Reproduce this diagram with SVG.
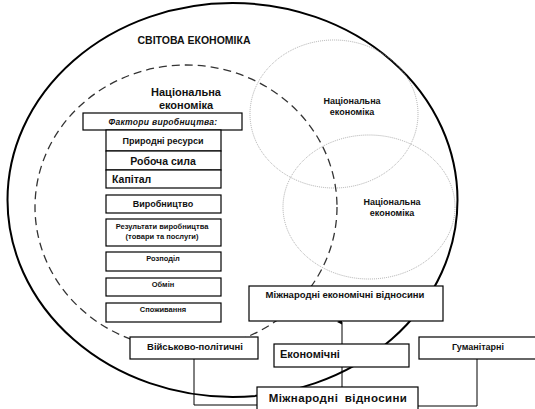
<svg xmlns="http://www.w3.org/2000/svg" width="535" height="409" viewBox="0 0 535 409">
<defs>
<style>
.box{fill:#fff;stroke:#000;stroke-width:1.2}
.t{font-family:"Liberation Sans",Arial,sans-serif;font-weight:bold;fill:#111}
.c{text-anchor:middle}
.ln{stroke:#000;stroke-width:1;fill:none}
</style>
<marker id="ah" markerWidth="6" markerHeight="6" refX="3" refY="5" orient="auto-start-reverse" markerUnits="userSpaceOnUse">
<path d="M0.5,5 L3,0 L5.5,5 Z" fill="#000"/>
</marker>
</defs>
<rect width="535" height="409" fill="#fff"/>
<g id="world">
<ellipse cx="232.5" cy="200" rx="225" ry="197" fill="none" stroke="#000" stroke-width="2"/>
<text class="t c" x="194" y="44" font-size="10.5">СВІТОВА ЕКОНОМІКА</text>
</g>
<g id="national3">
<ellipse cx="369" cy="207" rx="86" ry="72" fill="none" stroke="#999" stroke-width="0.8" stroke-dasharray="1,1"/>
<text class="t c" x="392" y="205" font-size="9">Національна</text>
<text class="t c" x="392" y="216" font-size="9">економіка</text>
</g>
<g id="national2">
<ellipse cx="334" cy="114" rx="84" ry="74" fill="none" stroke="#999" stroke-width="0.8" stroke-dasharray="1,1"/>
<text class="t c" x="352" y="104" font-size="9">Національна</text>
<text class="t c" x="352" y="115" font-size="9">економіка</text>
</g>
<g id="national1">
<ellipse cx="186" cy="207" rx="151" ry="142" fill="none" stroke="#333" stroke-width="1.3" stroke-dasharray="8,5"/>
<text class="t c" x="186" y="96" font-size="11">Національна</text>
<text class="t c" x="186" y="109" font-size="11">економіка</text>
</g>
<g id="factors">
<rect class="box" x="83" y="113" width="159" height="17"/>
<text class="t c" x="163" y="124.5" font-size="8.5" font-style="italic" letter-spacing="0.3">Фактори виробництва:</text>
</g>
<g id="resources">
<rect class="box" x="106" y="130" width="115" height="21"/>
<text class="t c" x="163" y="144" font-size="9">Природні ресурси</text>
</g>
<g id="labour">
<rect class="box" x="106" y="151" width="115" height="19"/>
<text class="t c" x="163" y="164.5" font-size="10.5">Робоча сила</text>
</g>
<g id="capital">
<rect class="box" x="106" y="170" width="115" height="18"/>
<text class="t" x="112" y="183" font-size="10.5">Капітал</text>
</g>
<g id="production">
<rect class="box" x="106" y="195" width="115" height="18"/>
<text class="t c" x="163" y="207" font-size="9">Виробництво</text>
</g>
<g id="results">
<rect class="box" x="106" y="219" width="115" height="27"/>
<text class="t c" x="162" y="229" font-size="7.5">Результати виробництва</text>
<text class="t c" x="162" y="239" font-size="7.5">(товари та послуги)</text>
</g>
<g id="distribution">
<rect class="box" x="106" y="252" width="115" height="19"/>
<text class="t c" x="163" y="261" font-size="7.5">Розподіл</text>
</g>
<g id="exchange">
<rect class="box" x="106" y="278" width="115" height="18"/>
<text class="t c" x="163" y="287" font-size="7.5">Обмін</text>
</g>
<g id="consumption">
<rect class="box" x="106" y="303" width="115" height="19"/>
<text class="t c" x="163" y="312" font-size="7.5">Споживання</text>
</g>
<g id="connectors">
<line class="ln" x1="342" y1="344" x2="342" y2="322" marker-end="url(#ah)"/>
<line class="ln" x1="342" y1="387" x2="342" y2="367"/>
<polyline class="ln" points="194,359 194,405 257,405"/>
<polyline class="ln" points="477,359 477,406 418,406"/>
</g>
<g id="intl-econ">
<rect class="box" x="249" y="286" width="194" height="35"/>
<text class="t c" x="345" y="298" font-size="9.5">Міжнародні економічні відносини</text>
</g>
<g id="military">
<rect class="box" x="130" y="337" width="128" height="22"/>
<text class="t c" x="195" y="350" font-size="9.5">Військово-політичні</text>
</g>
<g id="economic">
<rect class="box" x="274" y="344" width="135" height="23"/>
<text class="t" x="280" y="357.5" font-size="11">Економічні</text>
</g>
<g id="humanitarian">
<rect class="box" x="419" y="337" width="120" height="22"/>
<text class="t c" x="478" y="350" font-size="9">Гуманітарні</text>
</g>
<g id="intl">
<rect class="box" x="257" y="387" width="161" height="30"/>
<text class="t c" x="338" y="402" font-size="11.5" letter-spacing="0.4" word-spacing="3">Міжнародні відносини</text>
</g>
</svg>
